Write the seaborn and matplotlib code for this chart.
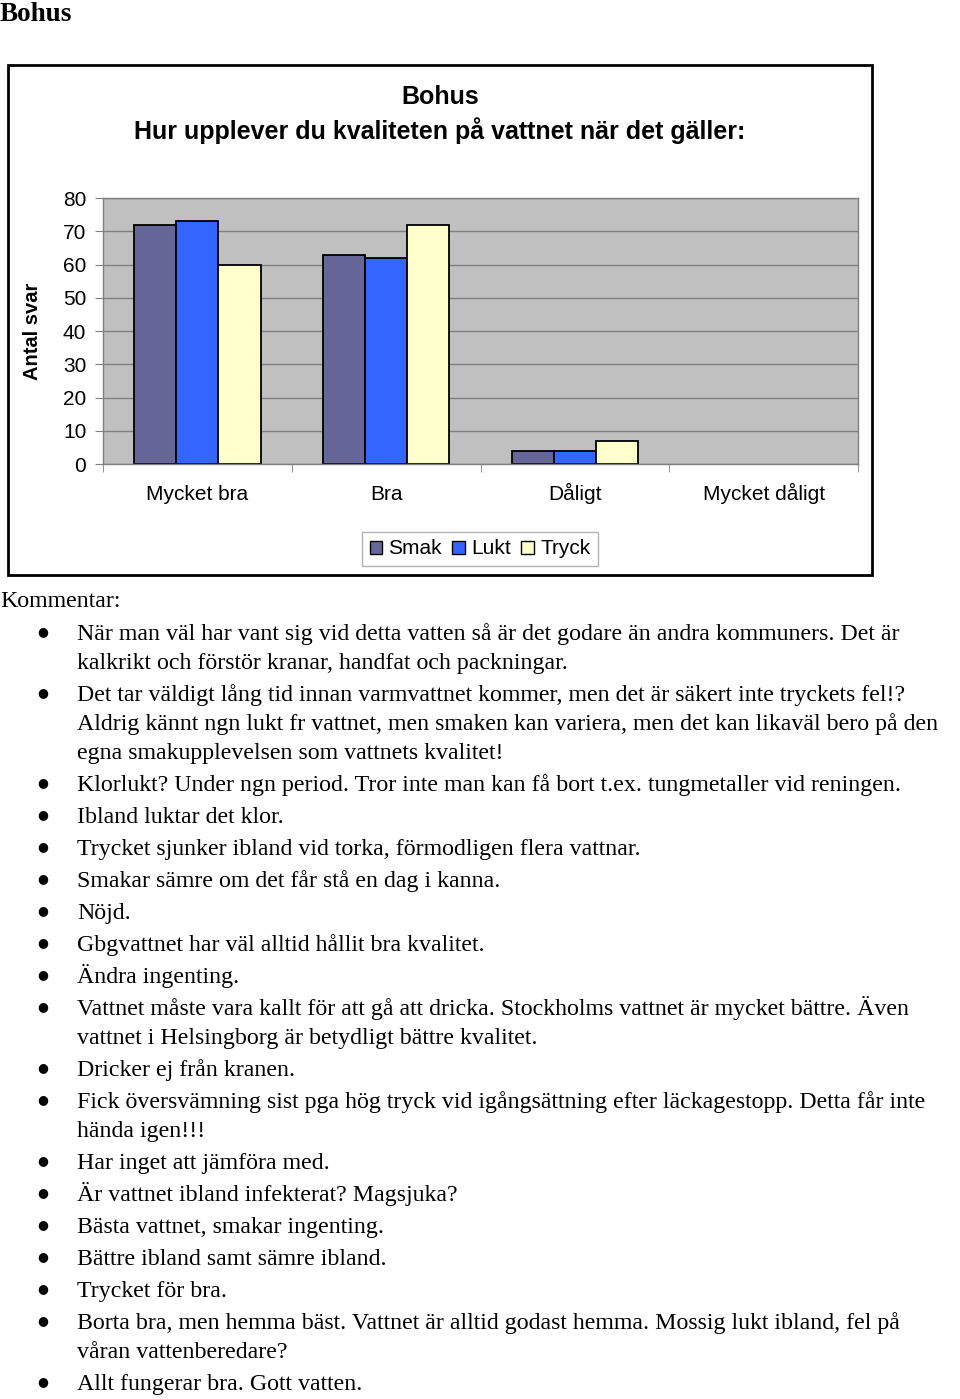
import pandas as pd
import matplotlib
matplotlib.use("Agg")
import matplotlib.pyplot as plt
import seaborn as sns
from matplotlib.patches import Rectangle

# survey answers, Bohus
categories = ["Mycket bra", "Bra", "Dåligt", "Mycket dåligt"]
series = ["Smak", "Lukt", "Tryck"]
smak = [72, 63, 4, 0]
lukt = [73, 62, 4, 0]
tryck = [60, 72, 7, 0]
yticks = [0, 10, 20, 30, 40, 50, 60, 70, 80]
colors = {"Smak": "#666699", "Lukt": "#3366FF", "Tryck": "#FFFFCC"}

comments = [
    ["När man väl har vant sig vid detta vatten så är det godare än andra kommuners. Det är",
     "kalkrikt och förstör kranar, handfat och packningar."],
    ["Det tar väldigt lång tid innan varmvattnet kommer, men det är säkert inte tryckets fel!?",
     "Aldrig kännt ngn lukt fr vattnet, men smaken kan variera, men det kan likaväl bero på den",
     "egna smakupplevelsen som vattnets kvalitet!"],
    ["Klorlukt? Under ngn period. Tror inte man kan få bort t.ex. tungmetaller vid reningen."],
    ["Ibland luktar det klor."],
    ["Trycket sjunker ibland vid torka, förmodligen flera vattnar."],
    ["Smakar sämre om det får stå en dag i kanna."],
    ["Nöjd."],
    ["Gbgvattnet har väl alltid hållit bra kvalitet."],
    ["Ändra ingenting."],
    ["Vattnet måste vara kallt för att gå att dricka. Stockholms vattnet är mycket bättre. Även",
     "vattnet i Helsingborg är betydligt bättre kvalitet."],
    ["Dricker ej från kranen."],
    ["Fick översvämning sist pga hög tryck vid igångsättning efter läckagestopp. Detta får inte",
     "hända igen!!!"],
    ["Har inget att jämföra med."],
    ["Är vattnet ibland infekterat? Magsjuka?"],
    ["Bästa vattnet, smakar ingenting."],
    ["Bättre ibland samt sämre ibland."],
    ["Trycket för bra."],
    ["Borta bra, men hemma bäst. Vattnet är alltid godast hemma. Mossig lukt ibland, fel på",
     "våran vattenberedare?"],
    ["Allt fungerar bra. Gott vatten."],
]

df = pd.DataFrame({
    "kategori": categories * 3,
    "serie": ["Smak"] * 4 + ["Lukt"] * 4 + ["Tryck"] * 4,
    "antal": smak + lukt + tryck,
})

W, H = 960, 1399
fig = plt.figure(figsize=(W / 100, H / 100), dpi=100)
sans = "Liberation Sans"
serif = "Liberation Serif"
body = 17.2

def fx(px):
    return px / W

def fy(py):
    return 1 - py / H

# chart frame
fig.patches.append(Rectangle((fx(8), fy(575)), fx(864), 510 / H, transform=fig.transFigure,
                             fill=False, edgecolor="black", linewidth=2))

ax = fig.add_axes([fx(103), fy(464), fx(755), 266 / H])
sns.barplot(data=df, x="kategori", y="antal", hue="serie", order=categories,
            hue_order=series, palette=colors, width=0.67, gap=0, saturation=1,
            edgecolor="black", linewidth=1.3, errorbar=None, ax=ax, legend=False)
for p in ax.patches:
    if p.get_height() == 0:
        p.set_linewidth(0)

ax.set_facecolor("#C0C0C0")
ax.set_ylim(0, 80)
ax.set_xlim(-0.5, 3.5)
ax.set_yticks(yticks)
ax.set_yticklabels([str(v) for v in yticks], fontsize=15, family=sans)
ax.yaxis.grid(True, color="#808080", linewidth=1)
ax.set_axisbelow(True)
ax.set_xticks(range(4))
ax.set_xticklabels(categories, fontsize=15, family=sans, va="baseline")
ax.set_xticks([-0.5, 0.5, 1.5, 2.5, 3.5], minor=True)
ax.tick_params(axis="x", which="major", length=0, pad=26)
ax.tick_params(axis="x", which="minor", length=6, color="#808080")
ax.tick_params(axis="y", length=6, color="#808080", pad=6)
for s in ax.spines.values():
    s.set_color("#808080")
    s.set_linewidth(1)
ax.set_xlabel("")
ax.set_ylabel("Antal svar", fontsize=14.5, fontweight="bold", family=sans)
ax.yaxis.set_label_coords(-0.081, 0.5)

fig.text(fx(440), fy(97), "Bohus", ha="center", va="center",
         fontsize=18, fontweight="bold", family=sans)
fig.text(fx(440), fy(131), "Hur upplever du kvaliteten på vattnet när det gäller:",
         ha="center", va="center", fontsize=18, fontweight="bold", family=sans)

handles = [Rectangle((0, 0), 1, 1, facecolor=colors[s], edgecolor="black", linewidth=1)
           for s in series]
leg = fig.legend(handles, series, loc="center", bbox_to_anchor=(fx(480), fy(549)),
                 ncol=3, frameon=True, fancybox=False, edgecolor="#A0A0A0",
                 prop={"family": sans, "size": 15}, handlelength=0.6,
                 handleheight=0.6, handletextpad=0.3, columnspacing=0.5,
                 borderpad=0.35)
leg.get_frame().set_linewidth(1)

# page text
fig.text(0, fy(21), "Bohus", ha="left", va="baseline", fontsize=19.5,
         fontweight="bold", family=serif)
fig.text(0, fy(607), "Kommentar:", ha="left", va="baseline", fontsize=body, family=serif)
y = 640
for i, lines in enumerate(comments):
    if i > 0:
        y += 32
    fig.text(fx(43), fy(y - 8), "●", ha="center", va="center", fontsize=9,
             family=["DejaVu Sans"])
    for j, line in enumerate(lines):
        if j > 0:
            y += 29
        fig.text(fx(77), fy(y), line, ha="left", va="baseline", fontsize=body, family=serif)

fig.savefig("out.png", dpi=100)
